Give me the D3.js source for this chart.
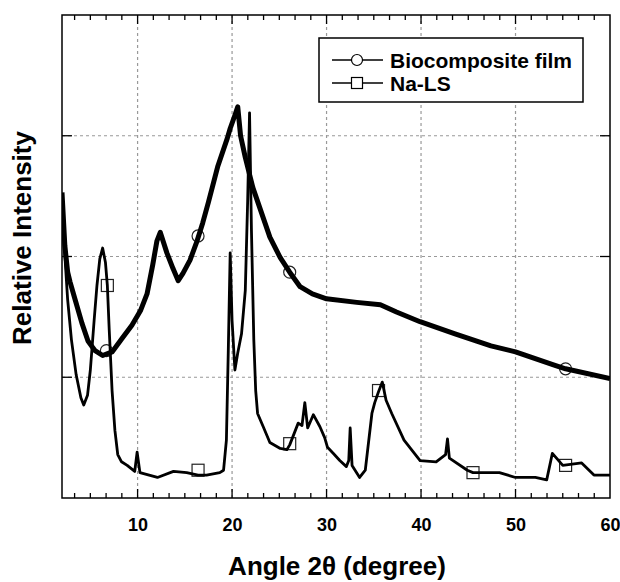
<!DOCTYPE html>
<html><head><meta charset="utf-8">
<script src="https://cdn.jsdelivr.net/npm/d3@7/dist/d3.min.js"></script>
<style>body{margin:0;background:#fff}svg{display:block}</style>
</head><body>
<svg id="c" width="620" height="582"></svg>
<script>
// Biocomposite film trace (angle, relative intensity)
const bioX = [2.0,2.3,2.6,2.85,3.4,4.1,4.75,5.5,6.3,7.3,8.35,9.4,10.3,11.0,11.6,12.05,12.4,13.1,13.75,14.3,14.8,15.55,16.3,16.9,17.5,18.5,19.5,19.8,20.3,20.6,20.9,21.4,22.2,23.3,24.0,25.1,26.1,27.2,28.5,30,33.2,35.7,37.4,39.9,43.6,47.4,50,54.1,55.3,60];
const bioY = [2.53,2.09,1.87,1.79,1.64,1.45,1.30,1.22,1.18,1.21,1.32,1.43,1.55,1.69,1.93,2.13,2.20,2.03,1.90,1.80,1.86,1.97,2.13,2.28,2.45,2.75,2.98,3.06,3.17,3.24,3.00,2.82,2.57,2.32,2.16,1.99,1.87,1.75,1.69,1.65,1.62,1.60,1.54,1.46,1.36,1.26,1.21,1.10,1.07,0.99];
// Na-LS trace
const nalsX = [2.0,2.3,2.6,3.0,3.5,4.0,4.3,4.7,5.0,5.4,5.7,6.0,6.3,6.6,6.8,7.0,7.3,7.6,7.9,8.3,8.9,9.7,9.95,10.25,12.1,13.8,15.2,16.4,17.3,18.7,19.1,19.4,19.6,19.8,20.0,20.3,20.6,21.0,21.4,21.65,21.85,22.05,22.3,22.5,22.7,23.3,24.0,25.1,25.8,26.1,26.7,27.0,27.4,27.7,28.0,28.6,29.3,29.8,30.1,30.7,31.4,32.1,32.35,32.5,32.7,33.5,34.1,34.8,35.1,35.5,35.9,36.3,36.9,38.2,39.9,41.6,42.6,42.8,43.0,44.9,45.5,48.3,50,52.1,53.3,53.9,55.0,57.0,58.3,60];
const nalsY = [2.46,2.01,1.64,1.31,1.02,0.83,0.77,0.85,1.06,1.47,1.76,1.98,2.07,1.95,1.76,1.39,0.89,0.56,0.36,0.30,0.27,0.22,0.38,0.21,0.17,0.22,0.21,0.19,0.19,0.21,0.23,0.48,1.22,2.03,1.47,1.06,1.20,1.36,1.72,2.46,3.19,2.22,1.31,0.89,0.70,0.59,0.46,0.41,0.40,0.44,0.56,0.62,0.60,0.79,0.58,0.69,0.59,0.50,0.42,0.37,0.31,0.26,0.31,0.58,0.27,0.17,0.23,0.70,0.79,0.88,0.96,0.81,0.70,0.48,0.31,0.30,0.36,0.49,0.33,0.23,0.21,0.21,0.17,0.17,0.15,0.37,0.27,0.29,0.19,0.19];
// Visible marker positions
const bioMarkX = [6.7,16.4,26.1,55.3];
const bioMarkY = [1.22,2.17,1.87,1.07];
const nalsMarkX = [6.8,16.4,26.1,35.5,45.5,55.3];
const nalsMarkY = [1.76,0.23,0.45,0.89,0.21,0.27];
// Axis ticks
const xMajor = [10,20,30,40,50,60];
const yMajor = [1,2,3];
const seriesNames = ["Biocomposite film","Na-LS"];

const svg = d3.select("#c");
const L=62,R=610,T=15,B=498;
const x = d3.scaleLinear().domain([2,60]).range([L,R]);
const y = d3.scaleLinear().domain([0,4]).range([B,T]);
// minor ticks every 10/6 aligned to multiples of 10
const minorTicks = d3.range(1,37).map(i=>i*10/6).filter(v=>v>2.01&&v<59.99);

// gridlines
const grid = svg.append("g").attr("stroke","#999").attr("stroke-width",1.2).attr("stroke-dasharray","3,3");
grid.selectAll(".gv").data(xMajor.filter(v=>v<60)).join("line")
  .attr("x1",d=>x(d)).attr("x2",d=>x(d)).attr("y1",T).attr("y2",B);
grid.selectAll(".gh").data(yMajor).join("line")
  .attr("x1",L).attr("x2",R).attr("y1",d=>y(d)).attr("y2",d=>y(d));

// ticks
const tk = svg.append("g").attr("stroke","#000").attr("stroke-width",1.3);
minorTicks.forEach(v=>{
  const isMaj = Math.abs(v/10-Math.round(v/10))<1e-6;
  const len = isMaj?9:5;
  tk.append("line").attr("x1",x(v)).attr("x2",x(v)).attr("y1",B).attr("y2",B-len);
  tk.append("line").attr("x1",x(v)).attr("x2",x(v)).attr("y1",T).attr("y2",T+len);
});
yMajor.forEach(v=>{
  tk.append("line").attr("x1",L).attr("x2",L+10).attr("y1",y(v)).attr("y2",y(v));
  tk.append("line").attr("x1",R).attr("x2",R-10).attr("y1",y(v)).attr("y2",y(v));
});

// x tick labels via axis
const xAxis = d3.axisBottom(x).tickValues(xMajor).tickSize(0).tickPadding(0);
const gx = svg.append("g").attr("transform",`translate(0,${B})`).call(xAxis);
gx.select(".domain").remove();
gx.selectAll("text").attr("dy",null).attr("y",33)
  .attr("font-family","Liberation Sans, Arial, sans-serif").attr("font-weight","bold")
  .attr("font-size",18).attr("fill","#000");

// clip
svg.append("clipPath").attr("id","clip").append("rect").attr("x",L).attr("y",T).attr("width",R-L).attr("height",B-T);

const line = d3.line().x(d=>x(d[0])).y(d=>y(d[1]));
const bio = bioX.map((v,i)=>[v,bioY[i]]);
const nals = nalsX.map((v,i)=>[v,nalsY[i]]);
const plot = svg.append("g").attr("clip-path","url(#clip)");

// markers (drawn under traces)
plot.selectAll(".cm").data(bioMarkX).join("circle")
  .attr("cx",d=>x(d)).attr("cy",(d,i)=>y(bioMarkY[i])).attr("r",6)
  .attr("fill","none").attr("stroke","#222").attr("stroke-width",1.2);
plot.selectAll(".sm").data(nalsMarkX).join("rect")
  .attr("x",d=>x(d)-6).attr("y",(d,i)=>y(nalsMarkY[i])-6).attr("width",12).attr("height",12)
  .attr("fill","none").attr("stroke","#222").attr("stroke-width",1.2);

plot.append("path").datum(nals).attr("d",line).attr("fill","none").attr("stroke","#000").attr("stroke-width",2.8).attr("stroke-linejoin","round");
plot.append("path").datum(bio).attr("d",line).attr("fill","none").attr("stroke","#000").attr("stroke-width",5).attr("stroke-linejoin","round");

// frame
svg.append("rect").attr("x",L).attr("y",T).attr("width",R-L).attr("height",B-T)
  .attr("fill","none").attr("stroke","#000").attr("stroke-width",1.5);

// legend
const lg = svg.append("g");
lg.append("rect").attr("x",319).attr("y",38).attr("width",264).attr("height",64)
  .attr("fill","#fff").attr("stroke","#000").attr("stroke-width",1.5);
seriesNames.forEach((n,i)=>{
  const cy = 60 + i*23;
  lg.append("line").attr("x1",332).attr("x2",383).attr("y1",cy).attr("y2",cy).attr("stroke","#000").attr("stroke-width",1.3);
  if(i===0){
    lg.append("circle").attr("cx",357).attr("cy",cy).attr("r",5.5).attr("fill","#fff").attr("stroke","#000").attr("stroke-width",1.2);
  } else {
    lg.append("rect").attr("x",351.5).attr("y",cy-5.5).attr("width",11).attr("height",11).attr("fill","#fff").attr("stroke","#000").attr("stroke-width",1.2);
  }
  lg.append("text").attr("x",390).attr("y",cy+7.5).text(n)
    .attr("font-family","Liberation Sans, Arial, sans-serif").attr("font-weight","bold").attr("font-size",21);
});

// axis titles
svg.append("text").attr("x",337).attr("y",575).attr("text-anchor","middle")
  .attr("font-family","Liberation Sans, Arial, sans-serif").attr("font-weight","bold").attr("font-size",26)
  .text("Angle 2θ (degree)");
svg.append("text").attr("transform","translate(31,238) rotate(-90)").attr("text-anchor","middle")
  .attr("font-family","Liberation Sans, Arial, sans-serif").attr("font-weight","bold").attr("font-size",26)
  .text("Relative Intensity");
</script>
</body></html>
